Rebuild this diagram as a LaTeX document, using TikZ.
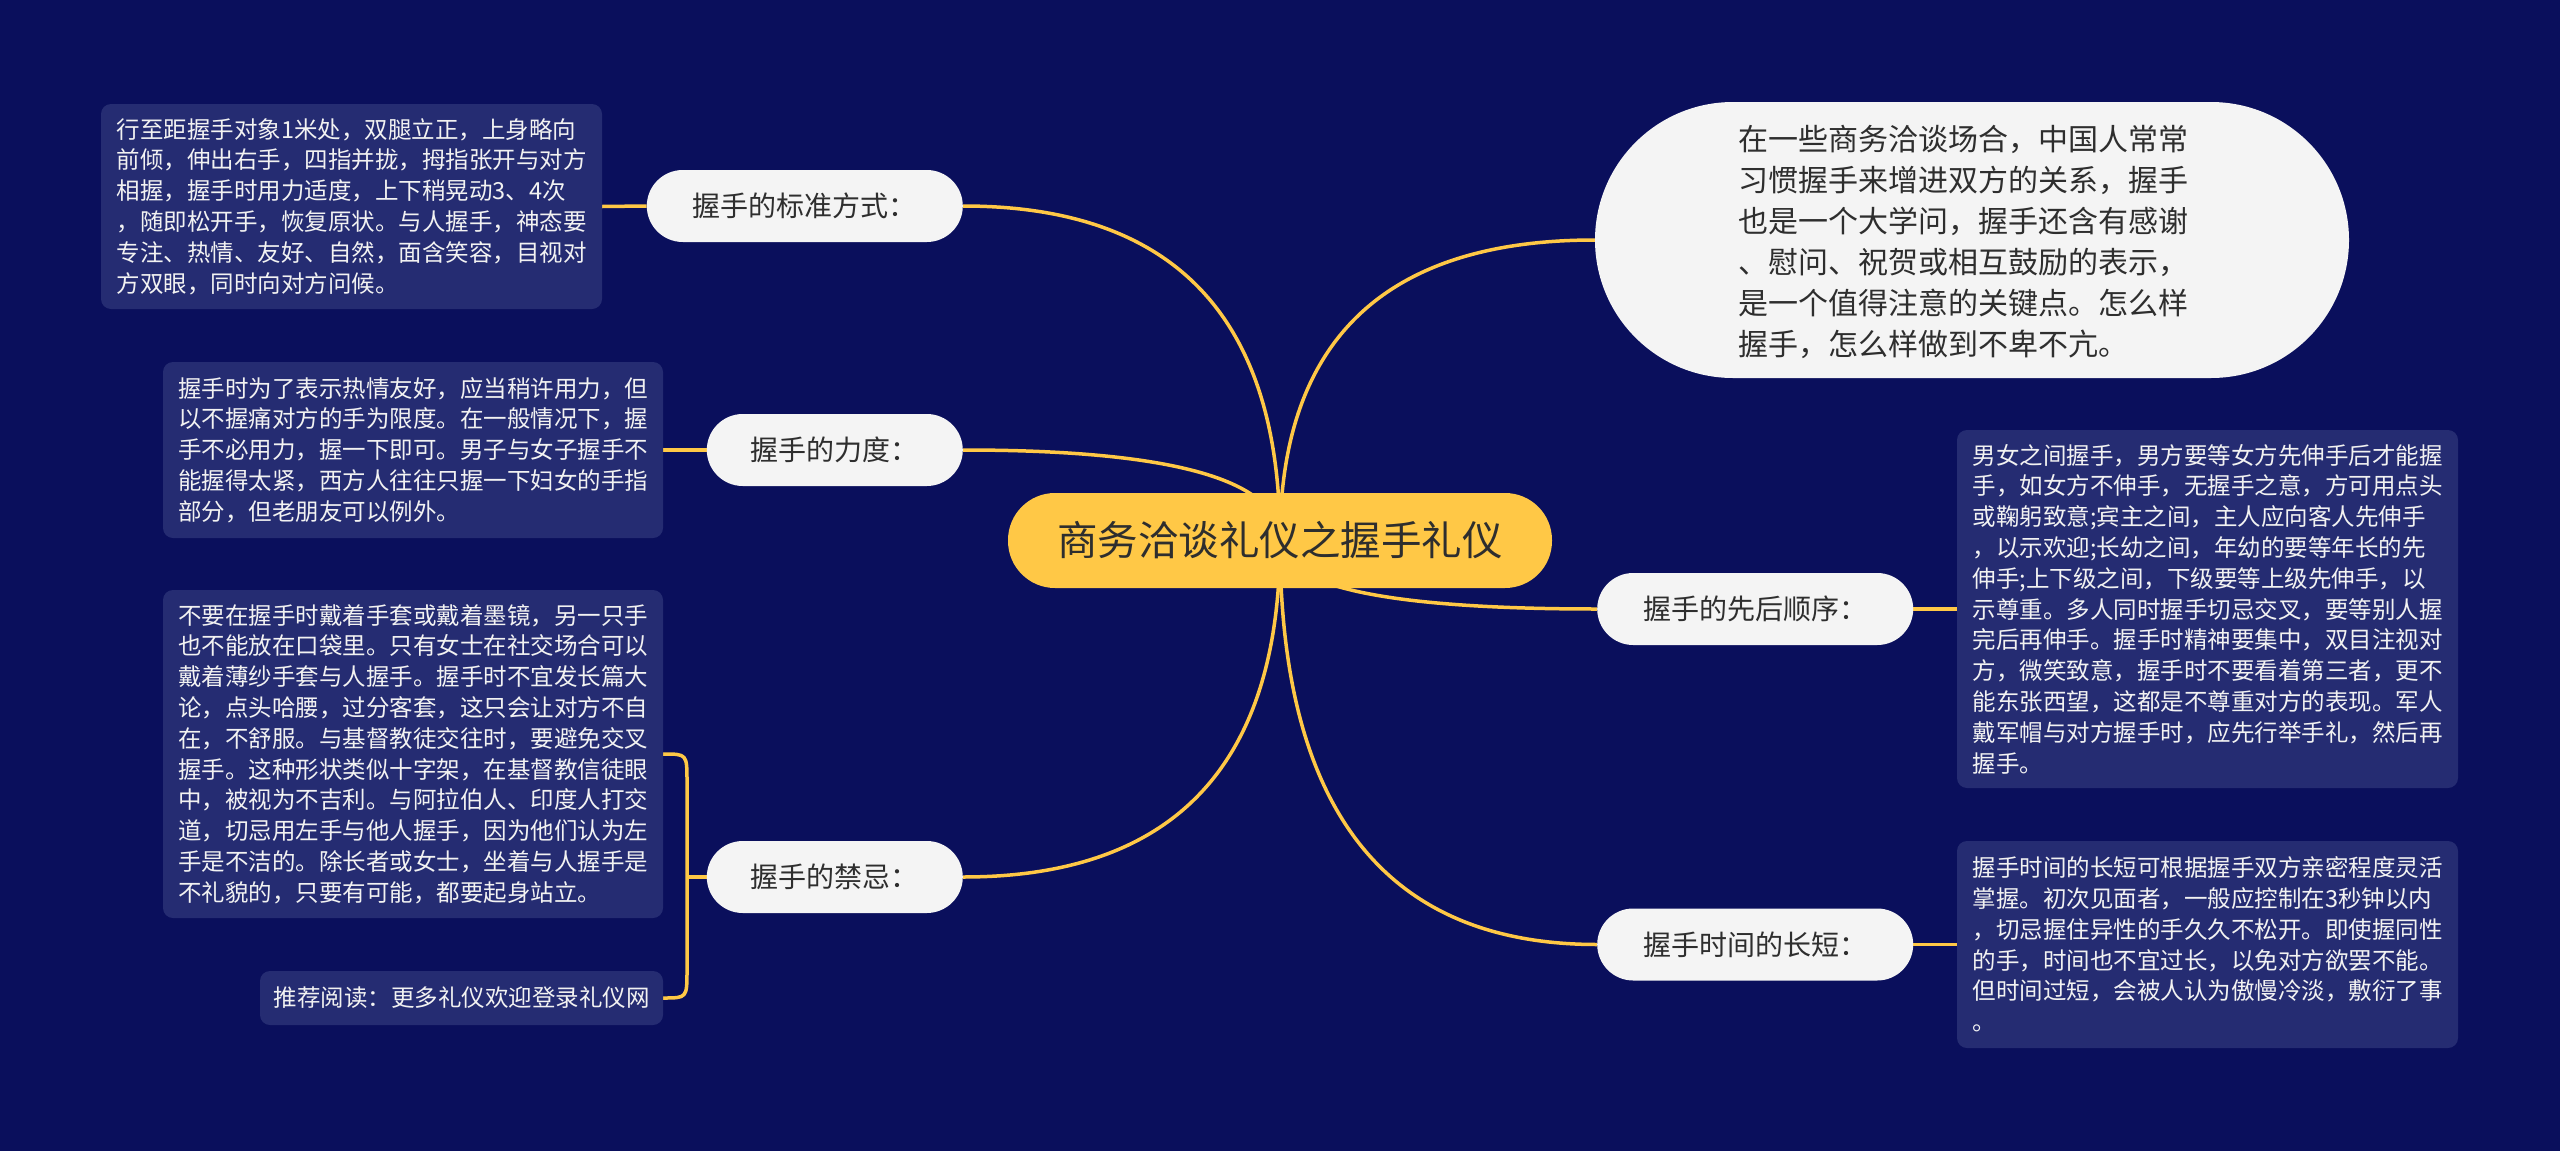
\documentclass[tikz,border=0pt]{standalone}
\usepackage{fontspec}
\setmainfont{Noto Sans CJK SC}
\usetikzlibrary{calc,backgrounds}
\definecolor{bgc}{HTML}{0A0F5C}
\definecolor{leafc}{HTML}{252C72}
\definecolor{linec}{HTML}{FFC846}
\definecolor{rootc}{HTML}{FFC846}
\definecolor{branchc}{HTML}{F4F4F4}
\definecolor{darktext}{HTML}{2E2E2E}
\definecolor{leaftext}{HTML}{F2F2F2}
\tikzset{
  rootnode/.style={fill=rootc, rounded corners=47pt, minimum width=544pt, minimum height=95pt, inner sep=0pt, text=darktext, font=\fontsize{40.5}{48}\selectfont},
  branchnode/.style={fill=branchc, rounded corners=36pt, minimum height=72pt, inner sep=0pt, text=darktext, font=\fontsize{28}{34}\selectfont},
  leafnode/.style={fill=leafc, rounded corners=10pt, inner sep=0pt, text=leaftext, align=left, font=\fontsize{23.5}{30.8}\selectfont},
  conn/.style={draw=linec, line width=3.5pt},
}
\newcommand\mmcurve[3]{%
  \coordinate (#3) at (root.center |- #2);
  \draw[conn] (root.center) .. controls ($(root.center)!0.6667!(#3)$) and ($(#2)!0.6667!(#3)$) .. (#2);
}
\begin{document}
\begin{tikzpicture}[x=1pt,y=-1pt]
\useasboundingbox (0,0) rectangle (2560,1151);

% root
\node[rootnode] (root) at (1280,540.5) {商务洽谈礼仪之握手礼仪};

% intro
\node[fill=branchc, rounded corners=138pt, minimum width=754pt, minimum height=276pt, inner sep=0pt] (intro) at (1972,240) {};
\node[text=darktext, align=left, inner sep=0pt, font=\fontsize{30}{41}\selectfont] (introtext) at (1963,242) {在一些商务洽谈场合，中国人常常\\习惯握手来增进双方的关系，握手\\也是一个大学问，握手还含有感谢\\、慰问、祝贺或相互鼓励的表示，\\是一个值得注意的关键点。怎么样\\握手，怎么样做到不卑不亢。};

% left branches
\node[branchnode, minimum width=316pt, anchor=east] (b1) at (963,206) {握手的标准方式：};
\node[branchnode, minimum width=256pt, anchor=east] (b2) at (963,450) {握手的力度：};
\node[branchnode, minimum width=256pt, anchor=east] (b3) at (963,877) {握手的禁忌：};

% right branches
\node[branchnode, minimum width=316pt, anchor=west] (r1) at (1597,609) {握手的先后顺序：};
\node[branchnode, minimum width=316pt, anchor=west] (r2) at (1597,944.5) {握手时间的长短：};

% leaves
\node[leafnode, minimum width=501pt, minimum height=205pt] (l1) at (351.5,206.5) {行至距握手对象1米处，双腿立正，上身略向\\前倾，伸出右手，四指并拢，拇指张开与对方\\相握，握手时用力适度，上下稍晃动3、4次\\，随即松开手，恢复原状。与人握手，神态要\\专注、热情、友好、自然，面含笑容，目视对\\方双眼，同时向对方问候。};

\node[leafnode, minimum width=500pt, minimum height=176pt] (l2) at (413,450) {握手时为了表示热情友好，应当稍许用力，但\\以不握痛对方的手为限度。在一般情况下，握\\手不必用力，握一下即可。男子与女子握手不\\能握得太紧，西方人往往只握一下妇女的手指\\部分，但老朋友可以例外。};

\node[leafnode, minimum width=500pt, minimum height=328pt] (l3) at (413,754) {不要在握手时戴着手套或戴着墨镜，另一只手\\也不能放在口袋里。只有女士在社交场合可以\\戴着薄纱手套与人握手。握手时不宜发长篇大\\论，点头哈腰，过分客套，这只会让对方不自\\在，不舒服。与基督教徒交往时，要避免交叉\\握手。这种形状类似十字架，在基督教信徒眼\\中，被视为不吉利。与阿拉伯人、印度人打交\\道，切忌用左手与他人握手，因为他们认为左\\手是不洁的。除长者或女士，坐着与人握手是\\不礼貌的，只要有可能，都要起身站立。};

\node[leafnode, minimum width=403pt, minimum height=54pt] (l4) at (461.5,998) {推荐阅读：更多礼仪欢迎登录礼仪网};

\node[leafnode, minimum width=501pt, minimum height=358pt] (rl1) at (2207.5,609) {男女之间握手，男方要等女方先伸手后才能握\\手，如女方不伸手，无握手之意，方可用点头\\或鞠躬致意;宾主之间，主人应向客人先伸手\\，以示欢迎;长幼之间，年幼的要等年长的先\\伸手;上下级之间，下级要等上级先伸手，以\\示尊重。多人同时握手切忌交叉，要等别人握\\完后再伸手。握手时精神要集中，双目注视对\\方，微笑致意，握手时不要看着第三者，更不\\能东张西望，这都是不尊重对方的表现。军人\\戴军帽与对方握手时，应先行举手礼，然后再\\握手。};

\node[leafnode, minimum width=501pt, minimum height=207pt] (rl2) at (2207.5,944.5) {握手时间的长短可根据握手双方亲密程度灵活\\掌握。初次见面者，一般应控制在3秒钟以内\\，切忌握住异性的手久久不松开。即使握同性\\的手，时间也不宜过长，以免对方欲罢不能。\\但时间过短，会被人认为傲慢冷淡，敷衍了事\\。};

\coordinate (j3) at (687,877);

\begin{scope}[on background layer]
  \fill[bgc] (0,0) rectangle (2560,1151);
  \mmcurve{root}{b1.east}{q1}
  \mmcurve{root}{b2.east}{q2}
  \mmcurve{root}{b3.east}{q3}
  \mmcurve{root}{intro.west}{q4}
  \mmcurve{root}{r1.west}{q5}
  \mmcurve{root}{r2.west}{q6}
  \draw[conn] (b1.west) -- (l1.east);
  \draw[conn] (b2.west) -- (l2.east);
  \draw[conn] (r1.east) -- (rl1.west);
  \draw[conn] (r2.east) -- (rl2.west);
  \draw[conn] (b3.west) -- (j3);
  \draw[conn, line cap=round] (l3.east) .. controls (l3.east -| j3) .. ($(l3.east -| j3)+(0,28)$) -- ($(l4.east -| j3)+(0,-28)$) .. controls (l4.east -| j3) .. (l4.east);
\end{scope}
\end{tikzpicture}
\end{document}
